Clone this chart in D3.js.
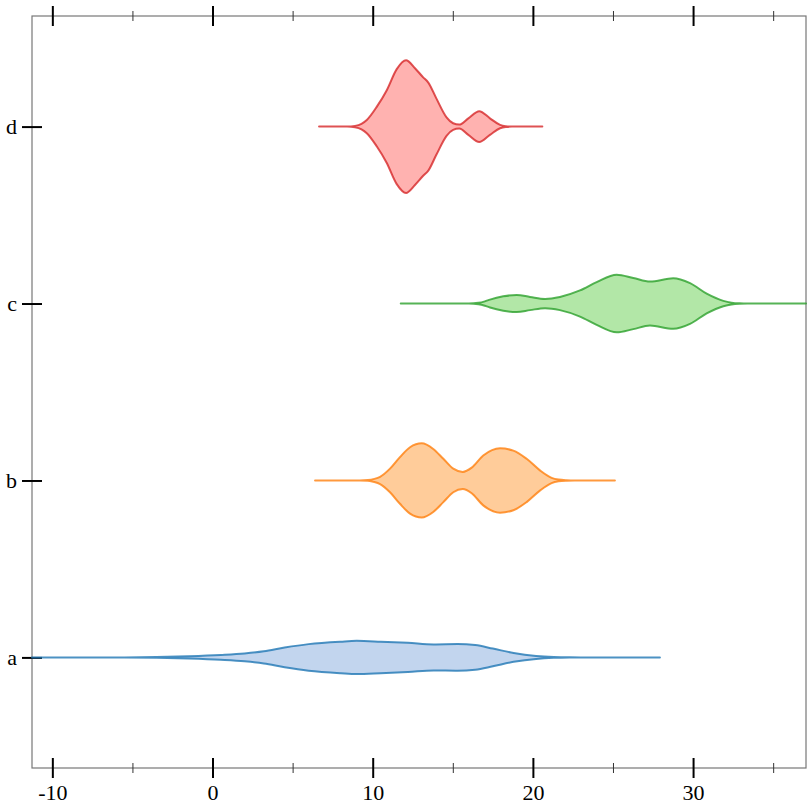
<!DOCTYPE html>
<html>
<head>
<meta charset="utf-8">
<script src="https://cdn.jsdelivr.net/npm/d3@7"></script>
<style>
  html, body { margin: 0; padding: 0; background: #fff; }
  svg { display: block; }
  text { font-family: "Liberation Serif", "Times New Roman", serif; fill: #000; }
</style>
</head>
<body>
<svg id="chart" width="812" height="812"></svg>
<script>
// ---- data ----
const categories = ["a", "b", "c", "d"];
const dataExtent = [-11.27, 37.05];
const majorTicks = [-10, 0, 10, 20, 30];
const minorTicks = [-5, 5, 15, 25, 35];

// each violin: [value, density] profile points (density in arbitrary units)
const violinA = [[-11.27,0],[-5.5,0],[-3.5,0.3],[-1.5,1.2],[0.5,2.5],[2.0,4.0],[3.2,6.2],[4.5,10],[6.0,13.5],[8.0,16.0],[9.0,16.8],[10.5,16.0],[12.2,14.8],[13.8,13.2],[15.3,13.5],[16.4,12.5],[17.5,9.0],[18.8,4.5],[20.2,1.5],[21.3,0.4],[22.3,0.05],[23.0,0],[27.93,0]];
const violinB = [[6.40,0],[9.2,0],[9.7,0.4],[10.1,1.6],[10.46,3.7],[11.08,12],[11.70,23.7],[12.33,33.7],[13.06,37.7],[13.78,32],[14.41,22],[15.03,12],[15.62,8.7],[16.18,13],[16.90,25.3],[17.95,32.7],[18.78,30.3],[19.61,22],[20.44,10.3],[21.17,2.7],[21.6,0.9],[22.1,0.2],[22.6,0],[25.12,0]];
const violinC = [[11.75,0],[16.0,0],[16.6,0.7],[17.0,2.2],[17.32,4],[18.15,7.3],[18.99,8.7],[19.82,6.7],[20.76,4.7],[21.69,6.7],[22.94,13.3],[23.98,21.7],[25.23,29.3],[26.27,26],[27.31,22.3],[28.76,25.7],[29.81,20.7],[30.85,10],[31.89,2.7],[32.4,0.9],[32.9,0.2],[33.4,0],[37.05,0]];
const violinD = [[6.65,0],[8.4,0],[8.9,0.7],[9.3,2.8],[9.63,6.7],[10.25,20],[10.87,36.7],[11.50,58.4],[12.08,67.4],[12.64,59.3],[13.15,50],[13.46,45],[13.98,28.4],[14.61,9.4],[15.02,3.4],[15.40,2],[15.97,8.4],[16.65,15.7],[17.32,8.4],[17.95,1.7],[18.3,0.4],[18.7,0],[20.59,0]];
const violins = [violinA, violinB, violinC, violinD];

const strokeColors = ["#1f77b4", "#ff7f0e", "#2ca02c", "#d62728"];
const fillColors = ["#aec7e8", "#ffbb78", "#98df8a", "#ff9896"];

// ---- layout ----
const margin = { left: 32, top: 16, right: 6, bottom: 44 };
const W = 812, H = 812;
const plotL = margin.left, plotR = W - margin.right, plotT = margin.top, plotB = H - margin.bottom;

const svg = d3.select("#chart");

const x = d3.scaleLinear().domain(dataExtent).range([plotL, plotR]);
const y = d3.scaleBand().domain(categories).range([plotB, plotT]).padding(0.25);
const maxDens = d3.max(violins, v => d3.max(v, d => d[1]));
const w = d3.scaleLinear().domain([0, maxDens]).range([0, y.bandwidth() / 2]);

// ---- frame ----
svg.append("rect")
  .attr("x", plotL).attr("y", plotT)
  .attr("width", plotR - plotL).attr("height", plotB - plotT)
  .attr("fill", "none").attr("stroke", "#777").attr("stroke-width", 1.2);

// ---- axes ----
function styleTicks(sel, major, horizontal) {
  sel.select(".domain").remove();
  const len = major ? 10 : 5;
  sel.selectAll(".tick line")
    .attr(horizontal ? "y1" : "x1", -len)
    .attr(horizontal ? "y2" : "x2", len)
    .attr("stroke", major ? "#000" : "#333")
    .attr("stroke-width", major ? 2 : 1);
}

// bottom major with labels
const bottomMajor = svg.append("g").attr("transform", `translate(0,${plotB})`)
  .call(d3.axisBottom(x).tickValues(majorTicks).tickSize(10).tickFormat(d3.format("d")));
styleTicks(bottomMajor, true, true);
bottomMajor.selectAll(".tick text")
  .attr("y", 32).attr("dy", 0)
  .style("font-size", "22px")
  .style("font-family", "'Liberation Serif', 'Times New Roman', serif")
  .text(d => d < 0 ? "-" + Math.abs(d) : d);

const bottomMinor = svg.append("g").attr("transform", `translate(0,${plotB})`)
  .call(d3.axisBottom(x).tickValues(minorTicks).tickSize(5).tickFormat(""));
styleTicks(bottomMinor, false, true);

// top ticks (no labels)
const topMajor = svg.append("g").attr("transform", `translate(0,${plotT})`)
  .call(d3.axisTop(x).tickValues(majorTicks).tickSize(10).tickFormat(""));
styleTicks(topMajor, true, true);
const topMinor = svg.append("g").attr("transform", `translate(0,${plotT})`)
  .call(d3.axisTop(x).tickValues(minorTicks).tickSize(5).tickFormat(""));
styleTicks(topMinor, false, true);

// left axis
const yCenter = d3.scalePoint().domain(categories)
  .range([y(categories[0]) + y.bandwidth() / 2, y(categories[categories.length - 1]) + y.bandwidth() / 2]);
const left = svg.append("g").attr("transform", `translate(${plotL},0)`)
  .call(d3.axisLeft(yCenter).tickSize(10));
styleTicks(left, true, false);
left.selectAll(".tick text")
  .attr("x", -15).attr("dy", "0.32em")
  .style("font-size", "22px")
  .style("font-family", "'Liberation Serif', 'Times New Roman', serif");

// ---- violins (drawn on top of axes) ----
const g = svg.append("g");
violins.forEach((v, i) => {
  const cy = y(categories[i]) + y.bandwidth() / 2;
  const area = d3.area()
    .curve(d3.curveMonotoneX)
    .x(d => x(d[0]))
    .y0(d => cy + w(d[1]))
    .y1(d => cy - w(d[1]));
  g.append("path")
    .datum(v)
    .attr("d", area)
    .attr("fill", fillColors[i])
    .attr("fill-opacity", 0.75)
    .attr("stroke", strokeColors[i])
    .attr("stroke-opacity", 0.8)
    .attr("stroke-width", 2)
    .attr("stroke-linejoin", "round");
});
</script>
</body>
</html>
